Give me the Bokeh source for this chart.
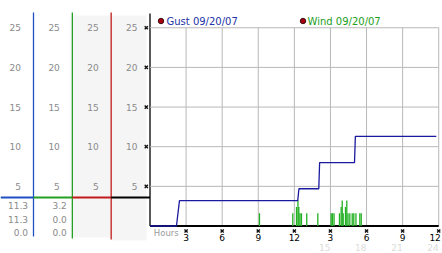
from bokeh.plotting import figure
from bokeh.models import Range1d
from bokeh.core.properties import value
from bokeh.embed import file_html
from bokeh.resources import INLINE

# ---------------- data ----------------
gust_hours = [0, 2.2, 2.45, 12.28, 12.38, 14.03, 14.1, 17.0, 17.07, 23.8]
gust_values = [0, 0, 3.2, 3.2, 4.7, 4.7, 8.0, 8.0, 11.3, 11.3]

wind_hours = [9.10, 11.87, 12.18, 12.30, 12.37, 12.47, 12.59, 13.03, 13.95,
              15.06, 15.17, 15.30, 15.75, 15.89, 15.98, 16.06, 16.25, 16.36,
              16.46, 16.61, 16.81, 16.94, 17.12, 17.44, 17.56]
wind_values = [1.6, 1.6, 2.4, 3.2, 2.4, 1.6, 1.6, 1.6, 1.6,
               1.6, 1.6, 1.6, 1.6, 2.4, 3.2, 1.6, 2.4, 3.2,
               1.6, 1.6, 1.6, 1.6, 1.6, 1.6, 1.6]

y_ticks = [5, 10, 15, 20, 25]
x_ticks = [3, 6, 9, 12, 15, 18, 21, 24]
x_tick_labels = ["3", "6", "9", "12", "3", "6", "9", "12"]
x_tick_labels_24h = ["", "", "", "", "15", "18", "21", "24"]
legend_labels = ["Gust 09/20/07", "Wind 09/20/07"]
gust_stats = ["11.3", "11.3", "0.0"]
wind_stats = ["3.2", "0.0", "0.0"]

# ---------------- layout ----------------
W, H = 442, 253
X0_PX, PX_PER_H = 149.5, 12.03      # hour 0 position, px per hour
Y0_PX, PX_PER_U = 225.5, 7.93       # value 0 position, px per unit
COL1_PX = 33.0
COL_W = (X0_PX - COL1_PX) / 3.0

def hx(px):
    return (px - X0_PX) / PX_PER_H

def vy(px):
    return (Y0_PX - px) / PX_PER_U

def cu(px):
    return 1 + (px - COL1_PX) / COL_W

FONT = value("DejaVu Sans")
GRAY = "#8a8a8a"
GRID = "#b8b8b8"
BLUE_DIV = "#2050c4"
GREEN_DIV = "#22a022"
RED_DIV = "#c21a1a"
GUST_C = "#1a1a9e"
WIND_C = "#22b022"

p = figure(width=W, height=H, output_backend="svg", toolbar_location=None,
           x_range=Range1d(hx(0), hx(W)), y_range=Range1d(vy(H), vy(0)),
           x_axis_type=None, y_axis_type=None, min_border=0)
p.extra_x_ranges = {"cols": Range1d(cu(0), cu(W))}
p.outline_line_color = None
p.background_fill_color = "white"
p.border_fill_color = "white"
p.xgrid.visible = False
p.ygrid.visible = False

# ---------- left panel ----------
p.quad(left=[2, 3], right=[3, cu(146)], bottom=[vy(237), vy(240)],
       top=[vy(15), vy(15)], fill_color="#f5f5f5", line_color=None,
       x_range_name="cols")

div_colors = [BLUE_DIV, GREEN_DIV, RED_DIV]
p.segment(x0=[1, 2, 3], x1=[1, 2, 3], y0=[vy(236), vy(238), vy(239)],
          y1=[vy(12)] * 3, line_color=div_colors, line_width=1.3,
          x_range_name="cols")
p.segment(x0=[4], x1=[4], y0=[0], y1=[vy(13)], line_color="black",
          line_width=1.3, x_range_name="cols")

# separator line
p.segment(x0=[cu(0), 1, 2, 3], x1=[1, 2, 3, 4], y0=[vy(197)] * 4,
          y1=[vy(197)] * 4, line_color=[BLUE_DIV, GREEN_DIV, RED_DIV, "black"],
          line_width=2.2, x_range_name="cols")

# tick labels repeated in four columns
lx, ly, lt = [], [], []
for k in [1, 2, 3, 4]:
    for t in y_ticks:
        lx.append(k)
        ly.append(t)
        lt.append(str(t))
p.text(x=lx, y=ly, text=lt, x_offset=-12.5, text_align="right",
       text_baseline="middle", text_color=GRAY, text_font=FONT,
       text_font_size="9px", x_range_name="cols")

# y tick marks
p.scatter(x=[cu(145.8)] * len(y_ticks), y=y_ticks, marker="x", size=4.5,
          line_color="#111111", line_width=1.4, x_range_name="cols")

# stats
stat_offsets = [-20.5, -7, 6.5]
p.text(x=[1] * 3, y=[0] * 3, text=gust_stats, x_offset=-5.5,
       y_offset=stat_offsets, text_align="right", text_baseline="middle",
       text_color=GRAY, text_font=FONT, text_font_size="9px",
       x_range_name="cols")
p.text(x=[2] * 3, y=[0] * 3, text=wind_stats, x_offset=-5.5,
       y_offset=stat_offsets, text_align="right", text_baseline="middle",
       text_color=GRAY, text_font=FONT, text_font_size="9px",
       x_range_name="cols")

# ---------- main plot ----------
# grid
p.segment(x0=[0] * len(y_ticks), x1=[24] * len(y_ticks), y0=y_ticks,
          y1=y_ticks, line_color=GRID, line_width=1)
p.segment(x0=x_ticks, x1=x_ticks, y0=[0] * len(x_ticks),
          y1=[25] * len(x_ticks), line_color=GRID, line_width=1)

# baseline
p.line(x=[0, 24], y=[0, 0], line_color="black", line_width=2)

# wind spikes
p.segment(x0=wind_hours, x1=wind_hours, y0=[0] * len(wind_hours),
          y1=wind_values, line_color=WIND_C, line_width=1.3)

# gust
p.line(x=gust_hours, y=gust_values, line_color=GUST_C, line_width=1.3)

# x tick marks and labels
p.scatter(x=x_ticks, y=[vy(230.5)] * len(x_ticks), marker="x", size=4.5,
          line_color="#111111", line_width=1.4)
xo = [0] * (len(x_ticks) - 1) + [-3.6]
p.text(x=x_ticks, y=[0] * len(x_ticks), text=x_tick_labels, x_offset=xo,
       y_offset=11.5, text_align="center", text_baseline="middle",
       text_color="black", text_font=FONT, text_font_size="9px")
p.text(x=x_ticks, y=[0] * len(x_ticks), text=x_tick_labels_24h,
       y_offset=21, text_align="right", text_baseline="middle",
       text_color="#dcdcdc", text_font=FONT, text_font_size="9px")
p.text(x=[hx(153.3)], y=[vy(232.5)], text=["Hours"], text_align="left",
       text_baseline="middle", text_color="#9a9a9a", text_font=FONT,
       text_font_size="8.5px")

# legend
leg_dot_x = [hx(160.5), hx(302.5)]
p.scatter(x=leg_dot_x, y=[vy(20.5)] * 2, marker="circle", size=5.5,
          fill_color="#a80010", line_color="#200000", line_width=0.8)
p.text(x=[hx(166)], y=[vy(20.5)], text=[legend_labels[0]], text_align="left",
       text_baseline="middle", text_color="#2233a8", text_font=FONT,
       text_font_size="10px")
p.text(x=[hx(307)], y=[vy(20.5)], text=[legend_labels[1]], text_align="left",
       text_baseline="middle", text_color="#22a022", text_font=FONT,
       text_font_size="10px")

open("out.html", "w").write(file_html(p, INLINE))
